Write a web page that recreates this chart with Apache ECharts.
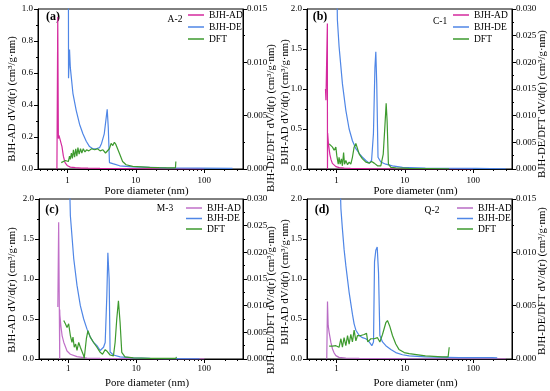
<!DOCTYPE html>
<html><head><meta charset="utf-8">
<script src="https://cdn.jsdelivr.net/npm/echarts@6/dist/echarts.min.js"></script>
<style>html,body{margin:0;padding:0;background:#fff}#c{width:550px;height:391px}</style>
</head><body><div id="c"></div>
<script>
// ---------- data (pore diameter in nm; AD on left axis, DE/DFT on right axis) ----------
const seriesNames = ['BJH-AD', 'BJH-DE', 'DFT'];
const panelLabels = ['(a)', '(b)', '(c)', '(d)'];
const sampleNames = ['A-2', 'C-1', 'M-3', 'Q-2'];
const xMajorTicks = [1, 10, 100];
const xMinorTicks = [0.4,0.5,0.6,0.7,0.8,0.9,2,3,4,5,6,7,8,9,20,30,40,50,60,70,80,90,200,300];
const xRange = [0.37, 370];
const leftMax = [1.0, 2.0, 2.0, 2.0];
const leftStep = [0.2, 0.5, 0.5, 0.5];
const rightMax = [0.015, 0.030, 0.030, 0.015];
const rightStep = [0.005, 0.005, 0.005, 0.005];

// Panel A
const A_AD_d = [0.70,0.72,0.735,0.75,0.77,0.80,0.83,0.87,0.92,1.0,1.1,1.3,1.6,2.0,3.0,5.0,10,30,100];
const A_AD_v = [0,0.95,0.19,0.21,0.21,0.20,0.14,0.08,0.04,0.02,0.012,0.008,0.006,0.005,0.004,0.003,0.002,0.001,0.0005];
const A_DE_d = [1.03,1.035,1.07,1.10,1.20,1.34,1.50,1.68,1.88,2.10,2.35,2.63,2.94,3.15,3.45,3.65,3.81,3.95,4.11,4.6,5.8,9,16,28,85,260];
const A_DE_v = [0.02,0.0085,0.0112,0.0095,0.0071,0.0055,0.0042,0.0033,0.0026,0.0021,0.0019,0.0019,0.0020,0.0024,0.0033,0.0046,0.0056,0.0039,0.0006,0.0005,0.0003,0.0002,0.00015,0.0001,0.00008,0.00005];
const A_DFT_d = [0.81,0.86,0.93,0.98,1.03,1.07,1.10,1.14,1.18,1.22,1.27,1.32,1.37,1.42,1.48,1.55,1.62,1.70,1.80,1.90,2.05,2.25,2.5,2.75,3.0,3.3,3.6,3.85,4.1,4.35,4.6,4.85,5.1,5.4,5.8,6.4,7.2,9,12,16,22,30,38,38.5];
const A_DFT_v = [0.0006,0.0007,0.0008,0.0009,0.0007,0.0012,0.0009,0.0015,0.0010,0.0018,0.0011,0.0019,0.0012,0.0020,0.0014,0.0019,0.0015,0.0019,0.0016,0.0018,0.0017,0.0019,0.0018,0.0019,0.0017,0.0018,0.0015,0.0016,0.0019,0.0024,0.0022,0.0025,0.0023,0.0024,0.0014,0.0007,0.0004,0.00025,0.0002,0.00015,0.00012,0.0001,0.0001,0.0007];

// Panel B
const B_AD_d = [0.69,0.70,0.735,0.738,0.742,0.76,0.78,0.80,0.83,0.87,0.92,0.98,1.1,1.3,1.6,2,3,5,10,30,100];
const B_AD_v = [1.0,0.86,1.82,0.0,0.45,0.33,0.25,0.18,0.12,0.07,0.045,0.03,0.018,0.012,0.008,0.006,0.004,0.003,0.002,0.001,0.0005];
const B_DE_d = [0.978,1.03,1.09,1.22,1.37,1.53,1.71,1.92,2.03,2.15,2.40,2.69,3.01,3.26,3.47,3.65,3.76,3.88,4.05,4.45,5.27,6.59,9.24,20,109,300];
const B_DE_v = [0.05,0.028,0.023,0.016,0.011,0.0075,0.0053,0.0038,0.0034,0.0029,0.0022,0.0016,0.0011,0.0016,0.0066,0.019,0.022,0.016,0.0022,0.0013,0.0009,0.0006,0.0003,0.00015,0.0001,0.00005];
const B_DFT_d = [0.781,0.826,0.874,0.924,0.978,1.01,1.06,1.09,1.13,1.18,1.22,1.27,1.31,1.37,1.45,1.53,1.62,1.71,1.81,1.92,2.03,2.15,2.27,2.40,2.69,3.01,3.26,3.56,3.98,4.45,4.83,5.10,5.33,5.5,5.75,6.24,7.37,11.6,44.6];
const B_DFT_v = [0.0047,0.0046,0.0041,0.0035,0.0041,0.0025,0.0009,0.0022,0.0009,0.0019,0.0006,0.0031,0.0009,0.0016,0.0008,0.0013,0.0009,0.0022,0.0041,0.0048,0.0038,0.0028,0.0025,0.0019,0.0013,0.0011,0.0014,0.0011,0.0006,0.0006,0.0028,0.0079,0.0123,0.0091,0.0009,0.0003,0.0002,0.0001,0.00005];

// Panel C
const C_AD_d = [0.70,0.72,0.746,0.746,0.75,0.78,0.81,0.855,0.956,1.07,1.34,1.88,2.94,9,28,100];
const C_AD_v = [0.65,1.71,0.0,0.62,0.55,0.4,0.29,0.21,0.10,0.06,0.03,0.012,0.008,0.004,0.002,0.001];
const C_DE_d = [1.01,1.07,1.20,1.34,1.50,1.68,1.88,2.10,2.35,2.63,2.94,3.11,3.29,3.48,3.68,3.81,3.98,4.11,4.60,5.76,9.02,16,28,85];
const C_DE_v = [0.04,0.0269,0.0188,0.0138,0.010,0.0075,0.0056,0.0041,0.0031,0.0025,0.0016,0.0013,0.0022,0.0031,0.0119,0.0199,0.015,0.0013,0.00075,0.0004,0.0002,0.0001,0.00008,0.00005];
const C_DFT_d = [0.855,0.904,0.956,1.01,1.07,1.13,1.17,1.22,1.28,1.34,1.42,1.50,1.58,1.68,1.71,1.84,1.94,2.10,2.35,2.63,2.94,3.18,3.48,3.74,4.11,4.60,4.87,5.15,5.45,5.76,6.1,6.8,9.0,15.8,38,38.9];
const C_DFT_v = [0.0072,0.0066,0.0059,0.0066,0.0044,0.0031,0.0041,0.0022,0.0028,0.0016,0.0031,0.0022,0.0020,0.0006,0.0001,0.0038,0.0053,0.0041,0.0031,0.0022,0.00125,0.0009,0.00175,0.0014,0.00075,0.0006,0.0031,0.0075,0.0109,0.0069,0.00125,0.0004,0.0002,0.0001,0.0001,0.0004];

// Panel D
const D_AD_d = [0.72,0.738,0.755,0.781,0.826,0.874,0.924,0.978,1.09,1.37,2.15,3.76,11.6,35,109,300];
const D_AD_v = [0,0.72,0.42,0.33,0.21,0.125,0.075,0.042,0.02,0.012,0.008,0.006,0.004,0.003,0.003,0.003];
const D_DE_d = [1.09,1.16,1.22,1.29,1.37,1.53,1.71,1.81,1.92,2.15,2.40,2.69,3.01,3.29,3.48,3.6,3.76,3.94,4.12,4.31,4.71,5.27,6.24,7.37,9.24,11.6,20,62,190,225];
const D_DE_v = [0.02,0.0141,0.0122,0.0103,0.00875,0.00625,0.0042,0.0033,0.0027,0.0022,0.0020,0.0019,0.0016,0.00125,0.0016,0.0091,0.0102,0.0105,0.0081,0.0022,0.0016,0.00125,0.0009,0.0006,0.0004,0.0003,0.0002,0.00012,0.00012,0.0001];
const D_DFT_d = [0.781,0.874,0.978,1.03,1.09,1.16,1.22,1.29,1.37,1.45,1.53,1.62,1.71,1.81,1.92,2.03,2.27,2.54,2.75,2.87,3.18,3.56,3.98,4.31,4.71,5.27,5.57,6.0,6.59,7.37,8.2,9.8,11.6,20,35,43,44.6];
const D_DFT_v = [0.0012,0.0012,0.00125,0.0014,0.0011,0.0019,0.0011,0.0020,0.00125,0.0022,0.0014,0.0023,0.0016,0.0027,0.0017,0.0022,0.0022,0.0023,0.0024,0.0016,0.0019,0.0019,0.0020,0.0016,0.0023,0.0034,0.0036,0.0031,0.0022,0.0014,0.0009,0.0006,0.0005,0.0003,0.0002,0.0002,0.0011];

const panelData = [
  [[A_AD_d, A_AD_v], [A_DE_d, A_DE_v], [A_DFT_d, A_DFT_v]],
  [[B_AD_d, B_AD_v], [B_DE_d, B_DE_v], [B_DFT_d, B_DFT_v]],
  [[C_AD_d, C_AD_v], [C_DE_d, C_DE_v], [C_DFT_d, C_DFT_v]],
  [[D_AD_d, D_AD_v], [D_DE_d, D_DE_v], [D_DFT_d, D_DFT_v]]
];

// ---------- layout & style ----------
const FONT = 'Liberation Serif';
const grids = [
  {left: 38, top: 9, width: 205, height: 160},
  {left: 307, top: 9, width: 205, height: 160},
  {left: 39, top: 199, width: 204, height: 160},
  {left: 307, top: 199, width: 205, height: 160}
];
const adColors = ['#d42a9e', '#d42a9e', '#c070c8', '#b86cc4'];
const deColor = '#4f86e6';
const dftColor = '#3d9a2e';
const xLabelMargin = [7, 7, 5, 5];
const xNameGap = [14, 14, 19, 19];
const legendPos = [
  {left: 188, top: 10, gap: 2},
  {left: 453, top: 10, gap: 2},
  {left: 186, top: 203, gap: 0.5},
  {left: 457, top: 203, gap: 0.5}
];
const labelPos = [[53, 17], [320, 17], [52, 210], [322, 210]];
const samplePos = [[175, 19], [440, 21], [165, 208], [432, 210]];
const leftNamePos = [[12, 99], [285, 102], [12, 290], [285, 282]];
const rightNamePos = [[271, 118], [542, 104], [271, 300], [542, 281]];

const lg = v => Math.log10(v);
const xMin = lg(xRange[0]), xMax = lg(xRange[1]);

const option = {
  backgroundColor: '#fff',
  animation: false,
  grid: [], xAxis: [], yAxis: [], series: [], legend: [], graphic: []
};

for (let p = 0; p < 4; p++) {
  option.grid.push(Object.assign({show: true, borderColor: '#000', borderWidth: 1, backgroundColor: 'transparent'}, grids[p]));
  // main x axis (log10-scaled values)
  option.xAxis.push({
    type: 'value', gridIndex: p, min: xMin, max: xMax,
    name: 'Pore diameter (nm)', nameLocation: 'middle', nameGap: xNameGap[p],
    nameTextStyle: {fontFamily: FONT, fontSize: 10.8, color: '#000', padding: [0, 0, 0, 12]},
    axisLine: {show: true, onZero: false, lineStyle: {color: '#000', width: 1}},
    axisTick: {show: true, length: 4, customValues: xMajorTicks.map(lg), lineStyle: {color: '#000'}},
    axisLabel: {show: true, customValues: xMajorTicks.map(lg), margin: xLabelMargin[p],
      fontFamily: FONT, fontSize: 9, color: '#000',
      formatter: v => String(Math.round(Math.pow(10, v)))},
    splitLine: {show: false}
  });
  // minor x ticks
  option.xAxis.push({
    type: 'value', gridIndex: p, min: xMin, max: xMax, position: 'bottom',
    axisLine: {show: false, onZero: false},
    axisTick: {show: true, length: 2, customValues: xMinorTicks.map(lg), lineStyle: {color: '#000'}},
    axisLabel: {show: false}, splitLine: {show: false}
  });
  option.yAxis.push({
    type: 'value', gridIndex: p, position: 'left', min: 0, max: leftMax[p], interval: leftStep[p],
    axisLine: {show: true, onZero: false, lineStyle: {color: '#000'}},
    axisTick: {show: true, length: 4, lineStyle: {color: '#000'}},
    minorTick: {show: true, splitNumber: 2, length: 2, lineStyle: {color: '#000'}},
    axisLabel: {margin: 5, fontFamily: FONT, fontSize: 9, color: '#000', formatter: v => v.toFixed(1)},
    splitLine: {show: false}
  });
  option.yAxis.push({
    type: 'value', gridIndex: p, position: 'right', min: 0, max: rightMax[p], interval: rightStep[p],
    axisLine: {show: true, onZero: false, lineStyle: {color: '#000'}},
    axisTick: {show: true, length: 4, lineStyle: {color: '#000'}},
    minorTick: {show: true, splitNumber: 2, length: 2, lineStyle: {color: '#000'}},
    axisLabel: {margin: 4, fontFamily: FONT, fontSize: 9, color: '#000', formatter: v => v.toFixed(3)},
    splitLine: {show: false}
  });
  const colors = [adColors[p], deColor, dftColor];
  for (let s = 0; s < 3; s++) {
    const [ds, vs] = panelData[p][s];
    option.series.push({
      type: 'line', name: seriesNames[s],
      xAxisIndex: 2 * p, yAxisIndex: s === 0 ? 2 * p : 2 * p + 1,
      data: ds.map((d, i) => [lg(d), vs[i]]),
      showSymbol: false, symbol: 'none', clip: true,
      lineStyle: {color: colors[s], width: 1.2},
      itemStyle: {color: colors[s]}
    });
  }
  option.legend.push({
    orient: 'vertical', left: legendPos[p].left, top: legendPos[p].top,
    itemGap: legendPos[p].gap, itemWidth: 16, itemHeight: 1.5, icon: 'rect',
    selectedMode: false, padding: 0,
    textStyle: {fontFamily: FONT, fontSize: 9.5, color: '#000', lineHeight: 10},
    data: seriesNames.map((n, s) => ({name: n, itemStyle: {color: colors[s]}}))
  });
  option.graphic.push(
    {type: 'text', x: labelPos[p][0], y: labelPos[p][1],
     style: {text: panelLabels[p], fontFamily: FONT, fontSize: 12, fontWeight: 'bold', fill: '#000', textAlign: 'center', textVerticalAlign: 'middle'}},
    {type: 'text', x: samplePos[p][0], y: samplePos[p][1],
     style: {text: sampleNames[p], fontFamily: FONT, fontSize: 9.5, fill: '#000', textAlign: 'center', textVerticalAlign: 'middle'}},
    {type: 'text', x: leftNamePos[p][0], y: leftNamePos[p][1], rotation: Math.PI / 2,
     style: {text: 'BJH-AD dV/d(r) (cm³/g·nm)', fontFamily: FONT, fontSize: 10.8, fill: '#000', textAlign: 'center', textVerticalAlign: 'middle'}},
    {type: 'text', x: rightNamePos[p][0], y: rightNamePos[p][1], rotation: Math.PI / 2,
     style: {text: 'BJH-DE/DFT dV/d(r) (cm³/g·nm)', fontFamily: FONT, fontSize: 10.8, fill: '#000', textAlign: 'center', textVerticalAlign: 'middle'}}
  );
}

const chart = echarts.init(document.getElementById('c'), null, {renderer: 'canvas'});
chart.setOption(option);
</script></body></html>
